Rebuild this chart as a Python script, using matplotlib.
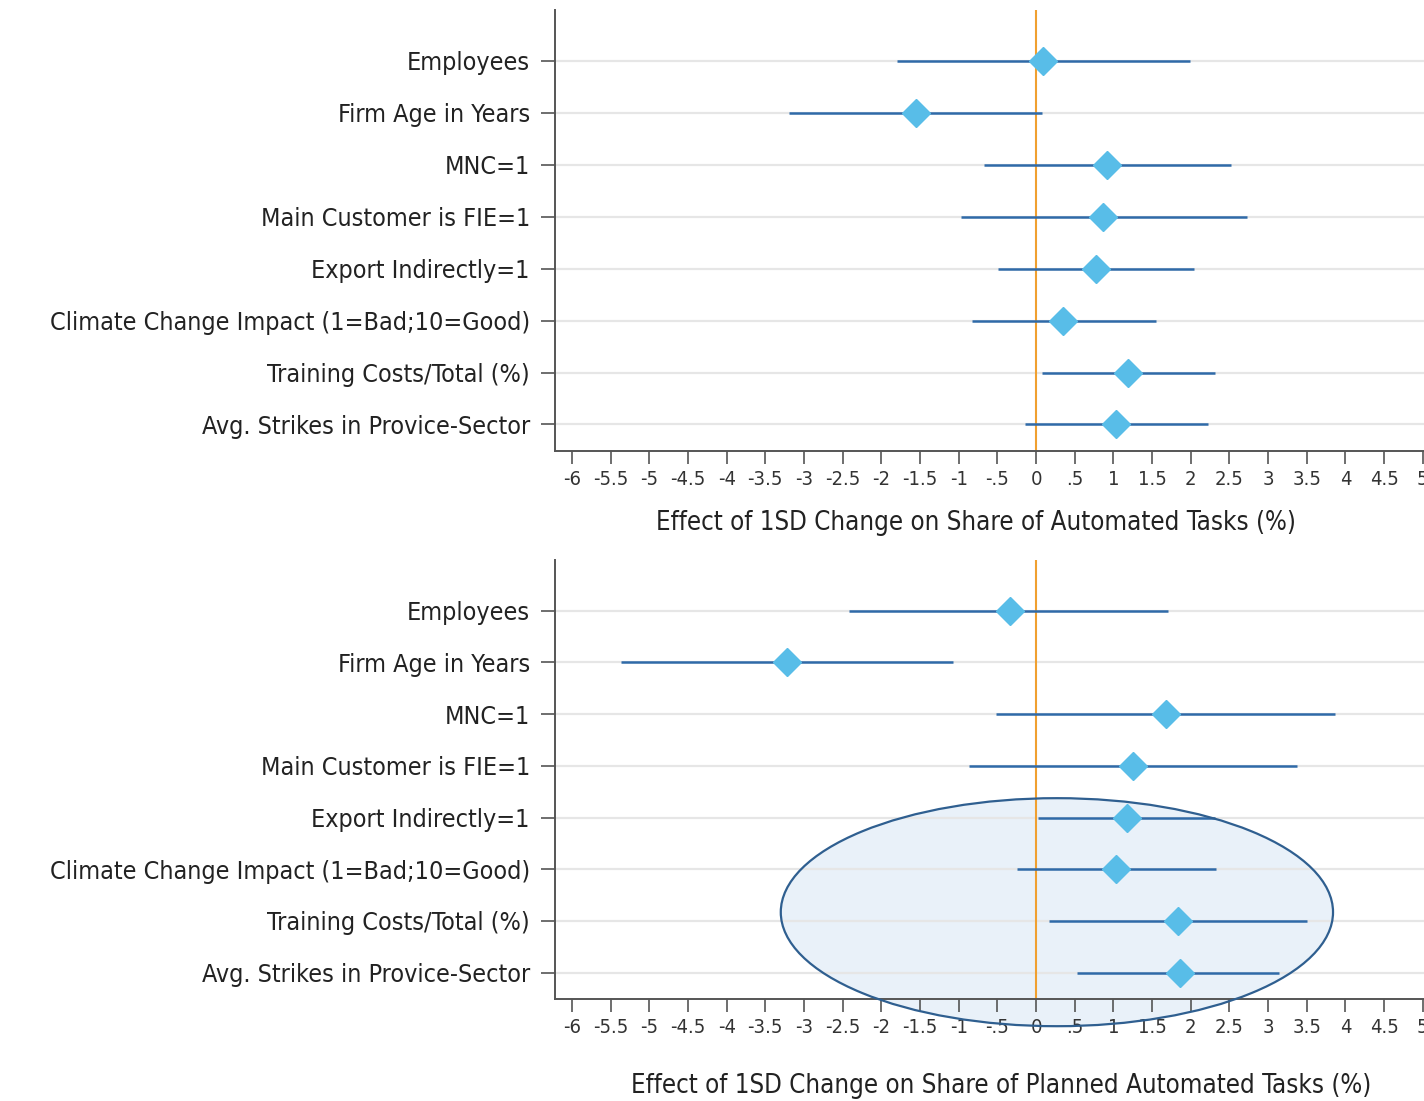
import matplotlib
matplotlib.use("Agg")
import matplotlib.pyplot as plt
from matplotlib.patches import Ellipse
import numpy as np

plt.rcParams['font.family'] = ['DejaVu Sans']
plt.rcParams['font.stretch'] = 'condensed'

# variables, top to bottom
labels = ["Employees", "Firm Age in Years", "MNC=1", "Main Customer is FIE=1",
          "Export Indirectly=1", "Climate Change Impact (1=Bad;10=Good)",
          "Training Costs/Total (%)", "Avg. Strikes in Provice-Sector"]

# panel 1: share of automated tasks
auto_est = [0.09, -1.55, 0.92, 0.87, 0.78, 0.35, 1.19, 1.03]
auto_lo = [-1.80, -3.19, -0.67, -0.97, -0.49, -0.83, 0.08, -0.14]
auto_hi = [1.99, 0.08, 2.52, 2.73, 2.04, 1.55, 2.31, 2.22]

# panel 2: share of planned automated tasks
plan_est = [-0.34, -3.22, 1.68, 1.25, 1.18, 1.03, 1.83, 1.86]
plan_lo = [-2.42, -5.36, -0.52, -0.87, 0.03, -0.25, 0.17, 0.53]
plan_hi = [1.71, -1.07, 3.86, 3.37, 2.31, 2.33, 3.50, 3.14]

xticks = np.arange(-6, 5.01, 0.5)
xtick_labels = ["-6", "-5.5", "-5", "-4.5", "-4", "-3.5", "-3", "-2.5", "-2", "-1.5",
                "-1", "-.5", "0", ".5", "1", "1.5", "2", "2.5", "3", "3.5", "4", "4.5", "5"]

xlabels = ["Effect of 1SD Change on Share of Automated Tasks (%)",
           "Effect of 1SD Change on Share of Planned Automated Tasks (%)"]

fig = plt.figure(figsize=(14.24, 11.01), dpi=100)
ax1 = fig.add_axes([0.3897, 0.5904, 0.623, 0.4005])
ax2 = fig.add_axes([0.3897, 0.0926, 0.623, 0.3987])

ypos = np.arange(len(labels), 0, -1)

panels = [(ax1, auto_est, auto_lo, auto_hi, 0.4746, -0.163),
          (ax2, plan_est, plan_lo, plan_hi, 0.503, -0.198)]

for i, (ax, est, lo, hi, lx, ly) in enumerate(panels):
    ax.set_xlim(-6.22, 5.25)
    ax.set_ylim(0.49, 8.98)
    for y in ypos:
        ax.axhline(y, color="#e6e6e6", lw=1.6, zorder=0.7)
    ax.axvline(0, color="#f0a030", lw=1.5, zorder=1)
    ax.hlines(ypos, lo, hi, color="#2f6aa8", lw=1.8, zorder=2)
    ax.plot(est, ypos, linestyle="none", marker="D", markersize=14.5,
            color="#58bde8", zorder=3)

    ax.set_yticks(ypos)
    ax.set_yticklabels(labels, fontsize=18, color="#222222")
    ax.set_xticks(xticks)
    ax.set_xticklabels(xtick_labels, fontsize=14.5, color="#333333")
    ax.tick_params(axis="y", length=10, width=1.2, color="#555555", pad=8)
    ax.tick_params(axis="x", length=9, width=1.2, color="#555555", pad=5)
    for s in ["top", "right"]:
        ax.spines[s].set_visible(False)
    for s in ["left", "bottom"]:
        ax.spines[s].set_color("#555555")
        ax.spines[s].set_linewidth(1.4)

    ax.set_xlabel(xlabels[i], fontsize=18.5, color="#222222")
    ax.xaxis.set_label_coords(lx, ly)
    ax.xaxis.label.set_va("center")

# highlight ellipse on the lower panel
ell = Ellipse((0.27, 2.17), 7.14, 4.41, facecolor="#cfe1f3", alpha=0.45,
              edgecolor="none", zorder=0.5, clip_on=False)
ell_edge = Ellipse((0.27, 2.17), 7.14, 4.41, facecolor="none",
                   edgecolor="#2f5f90", lw=1.6, zorder=5, clip_on=False)
ax2.add_patch(ell)
ax2.add_patch(ell_edge)

fig.savefig("out.png", dpi=100)
